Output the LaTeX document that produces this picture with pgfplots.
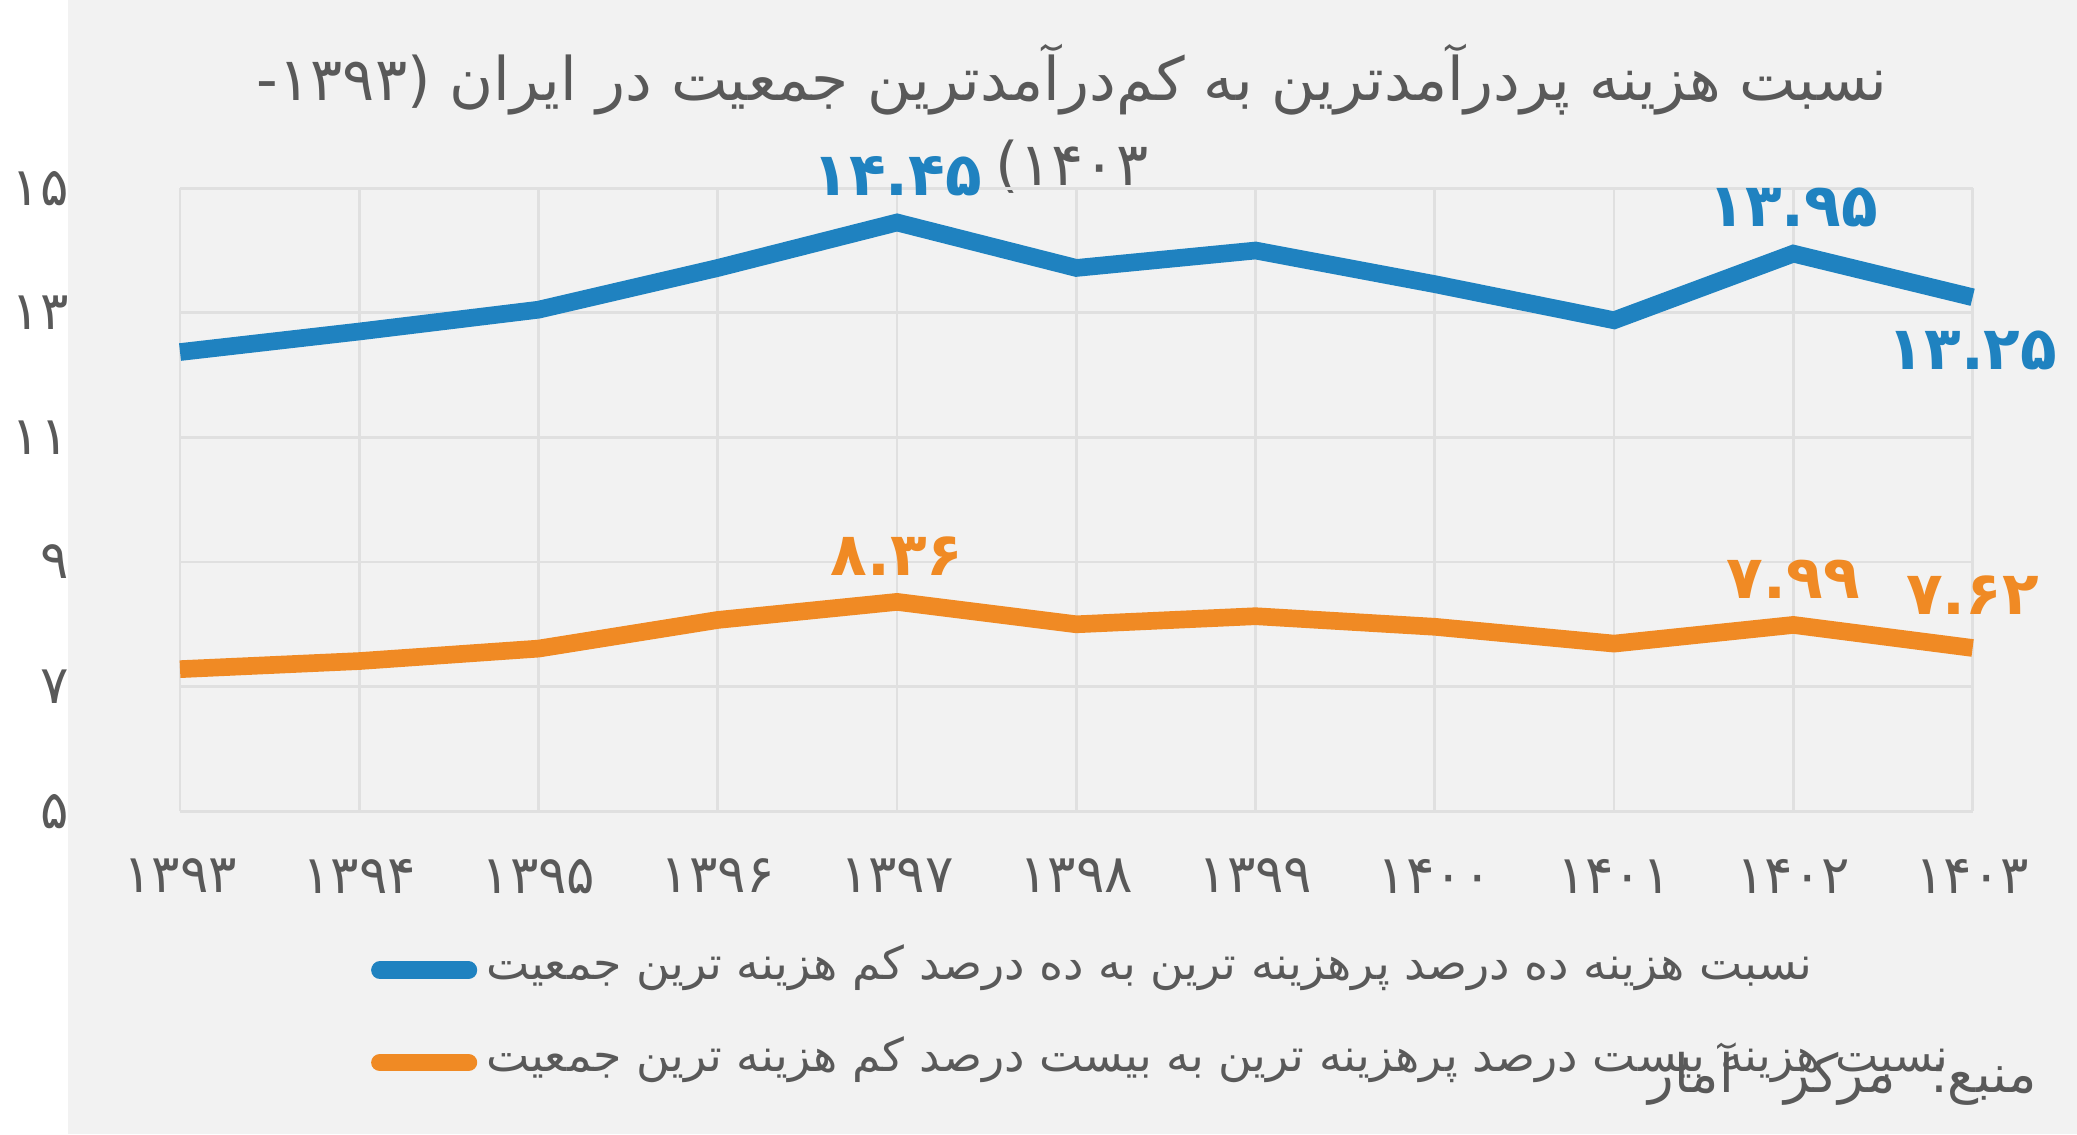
\documentclass[border=0pt]{standalone}
\usepackage{pgfplots}
\pgfplotsset{compat=1.18}
\usepackage{fontspec}
\setmainfont{DejaVu Sans}
\TeXXeTstate=1
\newfontfamily\arabicfont[Script=Arabic]{DejaVu Sans}
\definecolor{bgc}{HTML}{F2F2F2}
\definecolor{bl}{HTML}{1F82C0}
\definecolor{og}{HTML}{F08A24}
\definecolor{txt}{HTML}{595959}
\begin{document}
\begin{tikzpicture}
\begin{scope}[x=0.012763cm,y=0.012763cm]
\fill[bgc] (0,0) rectangle (1567,885);
\node[text=txt,font=\arabicfont\fontsize{17}{20}\selectfont] at (783,885-62) {\beginR نسبت هزینه پردرآمدترین به کم‌درآمدترین جمعیت در ایران (۱۳۹۳-\endR};
\node[text=txt,font=\arabicfont\fontsize{17}{20}\selectfont] at (783,885-130) {\beginR ۱۴۰۳)\endR};
\draw[bl,line width=5pt,line cap=round] (243,885-757) -- (312,885-757);
\node[anchor=west,text=txt,font=\arabicfont\fontsize{13}{16}\selectfont] at (316,885-755) {\beginR نسبت هزینه ده درصد پرهزینه ترین به ده درصد کم هزینه ترین جمعیت\endR};
\draw[og,line width=5pt,line cap=round] (243,885-829) -- (312,885-829);
\node[anchor=west,text=txt,font=\arabicfont\fontsize{13}{16}\selectfont] at (316,885-827) {\beginR نسبت هزینه بیست درصد پرهزینه ترین به بیست درصد کم هزینه ترین جمعیت\endR};
\node[anchor=east,text=txt,font=\arabicfont\fontsize{15}{18}\selectfont] at (1545,885-838) {\beginR منبع:\ \ مرکز\ \ \ آمار\endR};
\end{scope}
\begin{axis}[at={(1.110cm,3.216cm)},anchor=south west,scale only axis,
 width=17.84cm,height=6.2cm,
 xmin=1393,xmax=1403,ymin=5,ymax=15,
 axis line style={draw=none},
 grid=major,grid style={draw=black!12,line width=0.8pt},
 tick style={draw=none},
 xtick={1393,...,1403},
 xticklabels={۱۳۹۳,۱۳۹۴,۱۳۹۵,۱۳۹۶,۱۳۹۷,۱۳۹۸,۱۳۹۹,۱۴۰۰,۱۴۰۱,۱۴۰۲,۱۴۰۳},
 ytick={5,7,9,11,13,15},
 yticklabels={۵,۷,۹,۱۱,۱۳,۱۵},
 ticklabel style={font=\arabicfont\fontsize{15}{18}\selectfont,text=txt},
 xticklabel style={yshift=-10pt},
 yticklabel style={xshift=-28pt},
 clip=false]
\addplot[bl,line width=5pt] coordinates {(1393,12.37)(1394,12.7)(1395,13.05)(1396,13.72)(1397,14.45)(1398,13.72)(1399,14.0)(1400,13.46)(1401,12.88)(1402,13.95)(1403,13.25)};
\addplot[og,line width=5pt] coordinates {(1393,7.28)(1394,7.41)(1395,7.61)(1396,8.07)(1397,8.36)(1398,8.0)(1399,8.13)(1400,7.96)(1401,7.69)(1402,7.99)(1403,7.62)};
\node[bl,font=\arabicfont\bfseries\fontsize{17}{20}\selectfont,above=4pt] at (axis cs:1397,14.45) {۱۴.۴۵};
\node[bl,font=\arabicfont\bfseries\fontsize{17}{20}\selectfont,above=4pt] at (axis cs:1402,13.95) {۱۳.۹۵};
\node[bl,font=\arabicfont\bfseries\fontsize{17}{20}\selectfont,below=6pt] at (axis cs:1403,13.25) {۱۳.۲۵};
\node[og,font=\arabicfont\bfseries\fontsize{17}{20}\selectfont,above=4pt] at (axis cs:1397,8.36) {۸.۳۶};
\node[og,font=\arabicfont\bfseries\fontsize{17}{20}\selectfont,above=4pt] at (axis cs:1402,7.99) {۷.۹۹};
\node[og,font=\arabicfont\bfseries\fontsize{17}{20}\selectfont,above=6pt] at (axis cs:1403,7.62) {۷.۶۲};
\end{axis}
\end{tikzpicture}
\end{document}
